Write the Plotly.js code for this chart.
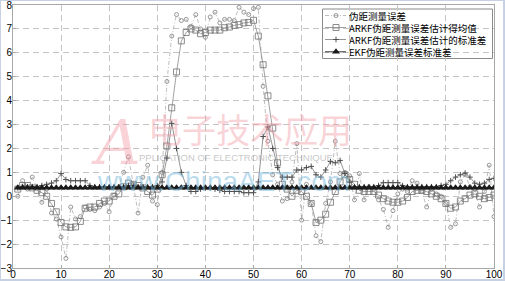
<!DOCTYPE html>
<html><head><meta charset="utf-8">
<script src="https://cdn.plot.ly/plotly-3.0.1.min.js"></script>
<style>
html,body{margin:0;padding:0;background:#fff;}
#chart{width:505px;height:281px;position:absolute;left:0;top:0;}
#frame{position:absolute;left:0;top:0;width:505px;height:281px;box-sizing:border-box;border-style:solid;border-color:#c6d2e4;border-width:1px 2px 2px 1px;pointer-events:none;}
</style>
</head><body><div id="chart"></div><div id="frame"></div>
<script>
// sample index
const sampleIdx = [1,2,3,4,5,6,7,8,9,10,11,12,13,14,15,16,17,18,19,20,
 21,22,23,24,25,26,27,28,29,30,31,32,33,34,35,36,37,38,39,40,
 41,42,43,44,45,46,47,48,49,50,51,52,53,54,55,56,57,58,59,60,
 61,62,63,64,65,66,67,68,69,70,71,72,73,74,75,76,77,78,79,80,
 81,82,83,84,85,86,87,88,89,90,91,92,93,94,95,96,97,98,99,100];

// 伪距测量误差
const measErr = [0.0, 0.65, 0.3, 0.8, 0.35, -0.25, 0.3, -0.7, -0.95, -1.7,
 -2.6, -0.45, -0.95, -0.85, -0.45, -0.55, -0.6, -0.45, -0.3, -0.65,
 0.05, 0.4, 1.0, 1.65, 0.5, -0.7, 0.8, 1.3, -0.2, -0.35,
 1.0, 4.8, 6.7, 7.6, 7.35, 7.4, 7.1, 7.6, 7.0, 6.65,
 7.5, 7.7, 7.25, 7.4, 7.4, 7.35, 7.9, 7.7, 7.6, 7.85,
 7.9, 4.6, 2.3, 0.9, 0.5, -0.2, -0.1, 0.6, 2.2, -1.0,
 0.5, -0.3, -1.65, -1.9, -0.3, 0.6, 2.3, 0.95, 1.0, 0.85,
 -0.15, 0.95, -0.15, 0.4, 0.3, -0.15, -0.55, -1.3, -0.6, 0.1,
 0.3, 0.2, 0.65, 0.55, 0.2, -0.45, 0.3, 0.1, 0.0, -0.3,
 -1.3, -1.15, 0.6, 0.9, 0.4, 0.3, -0.45, 0.2, 1.3, -0.85];

// ARKF伪距测量误差估计得均值
const arkfMean = [0.3, 0.45, 0.45, 0.35, 0.25, 0.15, 0.0, -0.3, -0.65, -1.1,
 -1.28, -1.3, -1.28, -1.05, -0.5, -0.45, -0.45, -0.3, -0.2, -0.2,
 0.0, 0.1, 0.4, 0.55, 0.5, 0.45, 0.35, 0.2, 0.05, 0.3,
 0.9, 2.1, 3.7, 5.2, 6.5, 6.85, 7.0, 6.95, 6.8, 6.85,
 6.95, 6.95, 6.95, 7.05, 7.08, 7.15, 7.18, 7.25, 7.27, 7.36,
 6.7, 5.5, 4.2, 2.85, 1.4, 0.5, 0.3, 0.0, 0.25, 0.2,
 0.0, -0.3, -1.1, -1.0, -0.75, -0.25, 0.2, 0.6, 0.9, 0.7,
 0.5, 0.25, 0.2, 0.2, 0.2, 0.05, -0.1, -0.2, -0.25, -0.25,
 -0.2, -0.05, 0.2, 0.25, 0.25, 0.2, 0.1, 0.0, -0.1, -0.3,
 -0.5, -0.45, -0.2, -0.1, 0.05, 0.1, 0.0, -0.1, -0.05, 0.05];

// ARKF伪距测量误差估计的标准差
const arkfStd = [0.35, 0.4, 0.4, 0.4, 0.4, 0.45, 0.5, 0.55, 0.65, 0.95,
 0.7, 0.65, 0.65, 0.65, 0.65, 0.45, 0.4, 0.4, 0.4, 0.4,
 0.4, 0.4, 0.4, 0.45, 0.45, 0.4, 0.4, 0.4, 0.4, 0.45,
 0.6, 1.6, 3.05, 2.0, 1.0, 0.45, 0.2, 0.2, 0.3, 0.35,
 0.35, 0.3, 0.25, 0.2, 0.2, 0.2, 0.2, 0.15, 0.15, 0.15,
 0.6, 2.5, 2.9, 2.0, 1.2, 0.8, 0.8, 0.8, 1.1, 1.1,
 1.2, 1.25, 0.9, 0.8, 1.1, 1.45, 1.4, 1.5, 0.95, 0.6,
 0.4, 0.4, 0.4, 0.4, 0.4, 0.45, 0.57, 0.57, 0.57, 0.57,
 0.45, 0.4, 0.4, 0.4, 0.4, 0.4, 0.4, 0.4, 0.45, 0.5,
 0.65, 0.8, 0.9, 0.97, 0.8, 0.55, 0.5, 0.55, 0.7, 0.75];

// EKF伪距测量误差标准差
const ekfStd = [0.36,0.36,0.36,0.36,0.36,0.36,0.36,0.36,0.36,0.36,
 0.36,0.36,0.36,0.36,0.36,0.36,0.36,0.36,0.36,0.36,
 0.36,0.36,0.36,0.36,0.36,0.36,0.36,0.36,0.36,0.36,
 0.36,0.36,0.36,0.36,0.36,0.36,0.36,0.36,0.36,0.36,
 0.36,0.36,0.36,0.36,0.36,0.36,0.36,0.36,0.36,0.36,
 0.36,0.36,0.36,0.36,0.36,0.36,0.36,0.36,0.36,0.36,
 0.36,0.36,0.36,0.36,0.36,0.36,0.36,0.36,0.36,0.36,
 0.36,0.36,0.36,0.36,0.36,0.36,0.36,0.36,0.36,0.36,
 0.36,0.36,0.36,0.36,0.36,0.36,0.36,0.36,0.36,0.36,
 0.36,0.36,0.36,0.36,0.36,0.36,0.36,0.36,0.36,0.36];

const seriesNames = ['伪距测量误差', 'ARKF伪距测量误差估计得均值', 'ARKF伪距测量误差估计的标准差', 'EKF伪距测量误差标准差'];
const xTicks = [0,10,20,30,40,50,60,70,80,90,100];
const yTicks = [-3,-2,-1,0,1,2,3,4,5,6,7,8];

const measLine = {color:'#a0a0a0', width:0.7, dash:'4px,2px,1px,2px'};
const measMarker = {symbol:'circle-open', size:4, color:'#808080', line:{width:0.8}};
const meanLine = {color:'#8a8a8a', width:0.8};
const meanMarker = {symbol:'square-open', size:6, color:'#707070', line:{width:0.8}};
const stdLine = {color:'#7a7a7a', width:0.8};
const stdMarker = {symbol:'cross-thin-open', size:4, color:'#505050', line:{width:1}};
const ekfLine = {color:'#000000', width:0.8};
const ekfMarker = {symbol:'triangle-up', size:7, color:'#1a1a1a'};

const traces = [
 {x:sampleIdx, y:measErr, name:seriesNames[0], mode:'lines+markers', line:measLine, marker:measMarker},
 {x:sampleIdx, y:arkfMean, name:seriesNames[1], mode:'lines+markers', line:meanLine, marker:meanMarker},
 {x:sampleIdx, y:arkfStd, name:seriesNames[2], mode:'lines+markers', line:stdLine, marker:stdMarker},
 {x:sampleIdx, y:ekfStd, name:seriesNames[3], mode:'lines+markers', line:ekfLine, marker:ekfMarker}
];

// hand-built legend on a pixel-like overlay axis (x2: 12..494, y2: 268..5)
const legRows = [15.5, 27.5, 39.5, 51.8];
const legLines = [measLine, meanLine, stdLine, ekfLine];
const legMarkers = [measMarker, meanMarker, stdMarker, ekfMarker];
legRows.forEach((ry, i) => {
  traces.push({x:[325,346], y:[ry,ry], xaxis:'x2', yaxis:'y2', mode:'lines', line:legLines[i], hoverinfo:'skip', showlegend:false});
  traces.push({x:[336], y:[ry], xaxis:'x2', yaxis:'y2', mode:'markers', marker:legMarkers[i], hoverinfo:'skip', showlegend:false});
});

const annotations = legRows.map((ry, i) => ({
  xref:'x2', yref:'y2', x:347.5, y:ry, text:seriesNames[i], showarrow:false,
  xanchor:'left', yanchor:'middle', borderpad:0,
  font:{family:'Noto Sans CJK SC, sans-serif', size:9.5, color:'#000'}
}));

// watermark
const pink = 'rgba(240,150,160,0.42)';
annotations.push({xref:'x2', yref:'y2', x:116, y:142, text:'A', showarrow:false, xanchor:'center', yanchor:'middle',
  font:{family:'DejaVu Serif, serif', size:62, color:pink, style:'italic'}});
annotations.push({xref:'x2', yref:'y2', x:250, y:128, text:'电子技术应用', showarrow:false, xanchor:'center', yanchor:'middle',
  font:{family:'Noto Sans CJK SC, sans-serif', size:34, color:pink}});
annotations.push({xref:'x2', yref:'y2', x:137, y:157, text:'PPLICATION OF ELECTRONIC TECHNIQUE', showarrow:false, xanchor:'left', yanchor:'middle',
  font:{family:'Liberation Sans, Arial, sans-serif', size:9.5, color:'rgba(150,150,150,0.55)'}});
annotations.push({xref:'x2', yref:'y2', x:223, y:181, text:'www.ChinaAET.com', showarrow:false, xanchor:'center', yanchor:'middle',
  font:{family:'Liberation Sans, Arial, sans-serif', size:28, color:'rgba(120,185,220,0.5)'}});

const axisCommon = {
  showgrid:true, gridcolor:'#c4c4c4', griddash:'6px,4px', gridwidth:1,
  showline:true, mirror:true, linecolor:'#a8a8a8', linewidth:1,
  ticks:'inside', ticklen:3, tickcolor:'#a8a8a8', zeroline:false,
  ticklabeloverflow:'allow',
  tickfont:{family:'Liberation Sans, Arial, sans-serif', size:10, color:'#000'}
};

const layout = {
  width:505, height:281,
  margin:{l:13, r:11, t:5, b:13, pad:0},
  paper_bgcolor:'#ffffff', plot_bgcolor:'#ffffff',
  showlegend:false,
  xaxis:Object.assign({}, axisCommon, {range:[0,100], tickvals:xTicks, ticklabelstandoff:-3}),
  yaxis:Object.assign({}, axisCommon, {range:[-3,8], tickvals:yTicks, ticklabelstandoff:-2}),
  xaxis2:{domain:[0,1], range:[13,494], visible:false, anchor:'y2', overlaying:'x'},
  yaxis2:{domain:[0,1], range:[268,5], visible:false, anchor:'x2', overlaying:'y'},
  shapes:[{type:'rect', xref:'x2', yref:'y2', x0:322.5, x1:492.5, y0:9, y1:58.5,
    line:{color:'#8a8a8a', width:1}, fillcolor:'rgba(255,255,255,0)', layer:'below'}],
  annotations:annotations
};

Plotly.newPlot('chart', traces, layout, {staticPlot:true, displayModeBar:false});
</script>
</body></html>
